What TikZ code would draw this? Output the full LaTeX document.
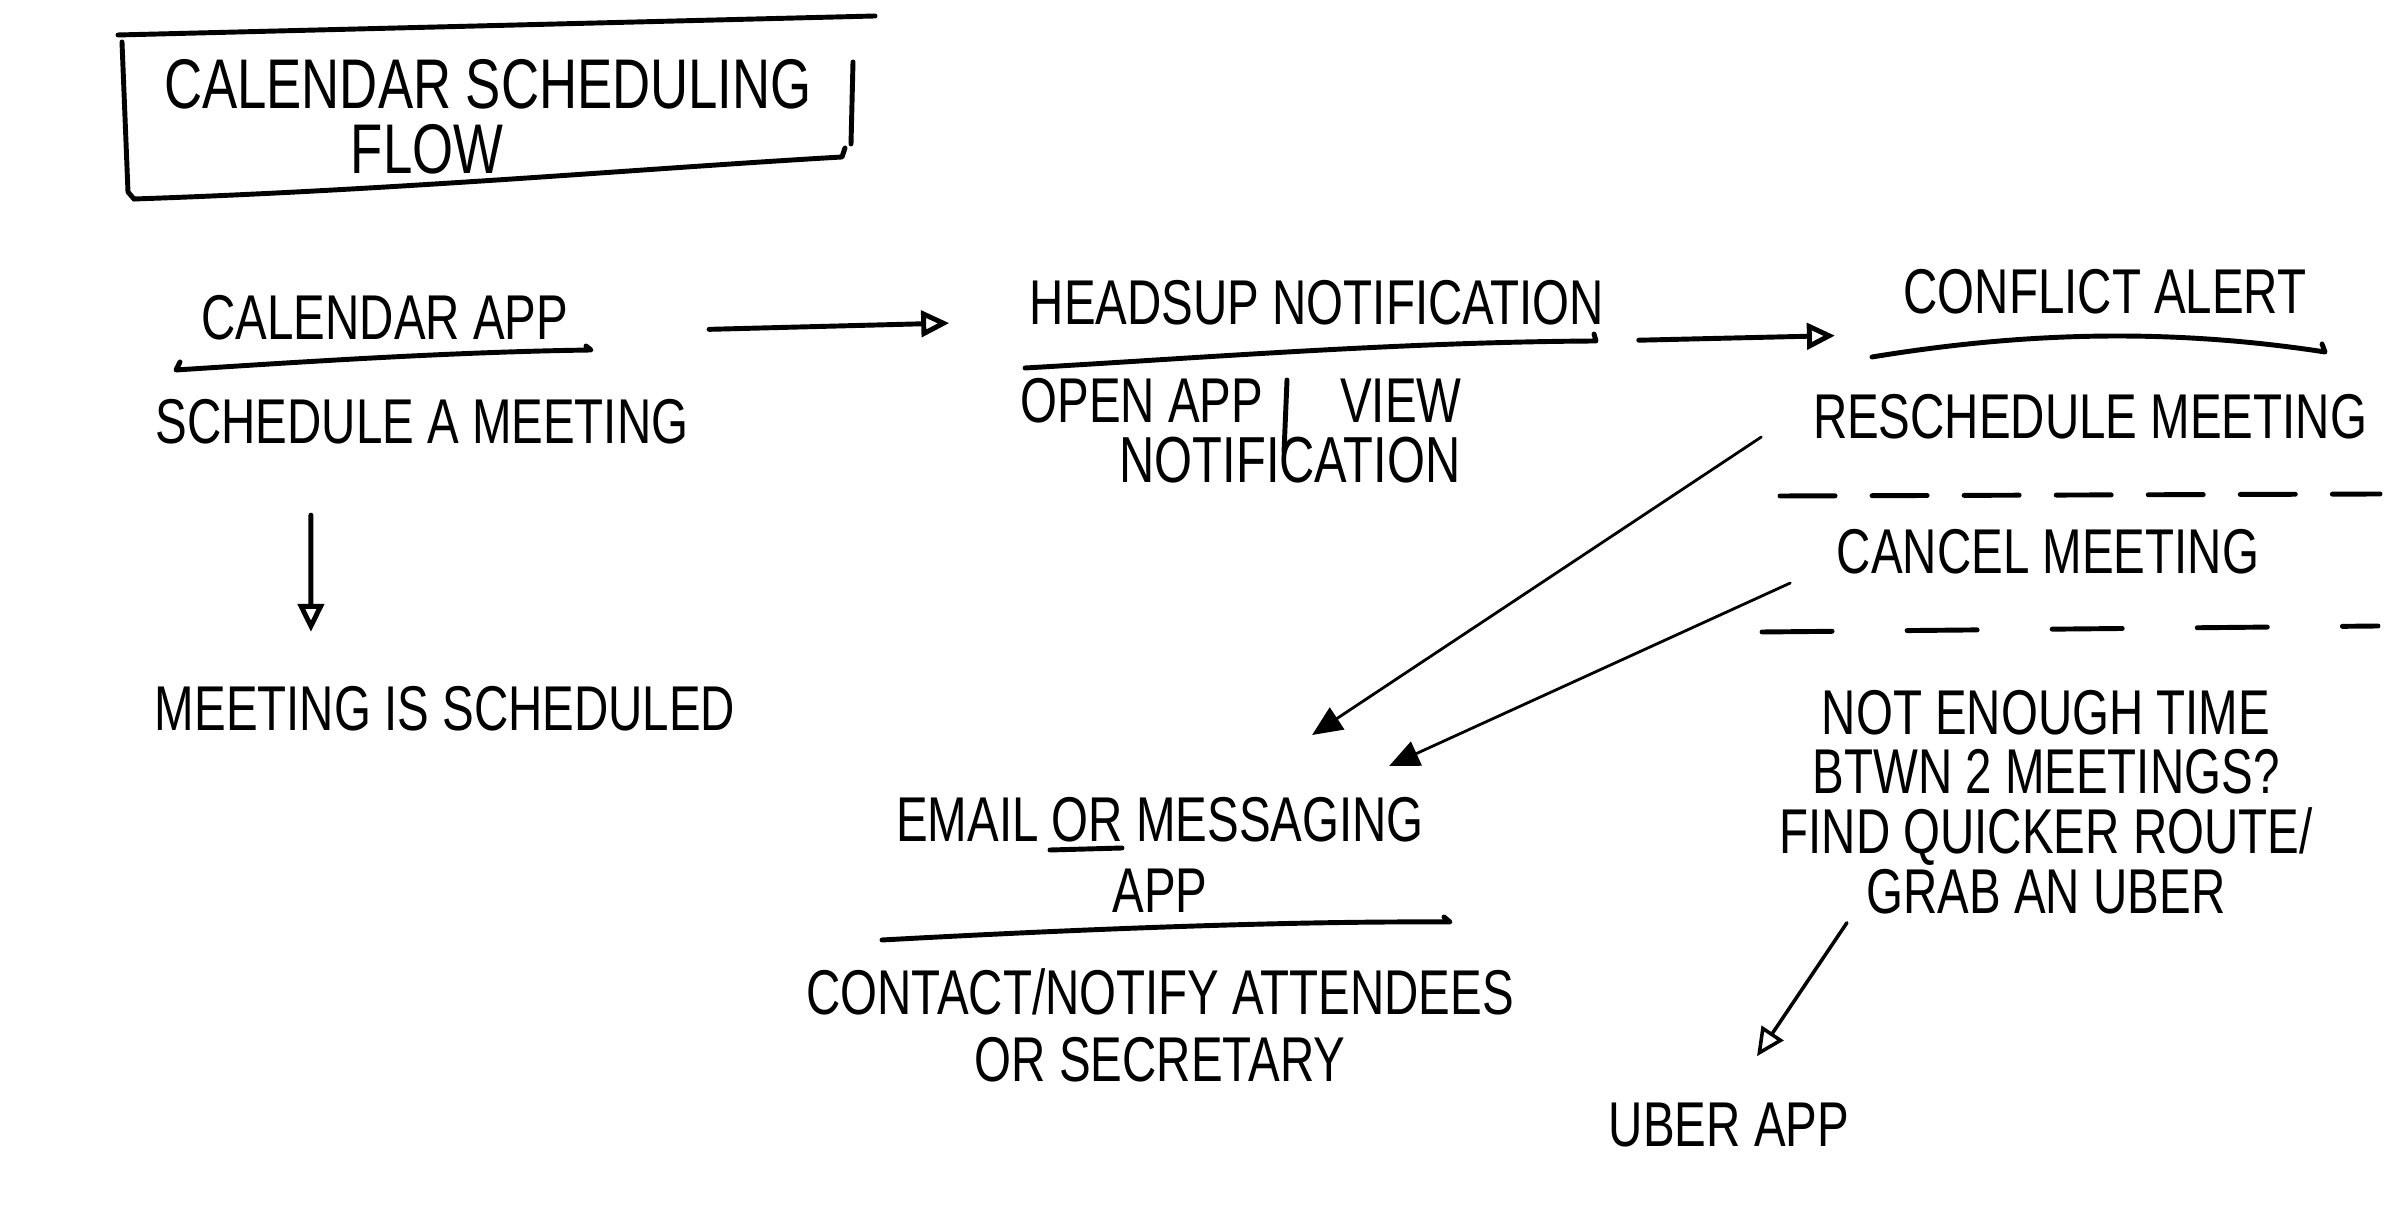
\documentclass[tikz,border=0pt]{standalone}
\usepackage{fontspec}
\setmainfont{Liberation Sans}[FakeStretch=0.75]
\usetikzlibrary{arrows.meta}

\begin{document}
\begin{tikzpicture}[x=0.01cm, y=-0.01cm,
    ink/.style={line width=1.4pt, line cap=round, line join=round},
    pencil/.style={line width=0.8pt, line cap=round},
    txt/.style={inner sep=0pt, font=\fontsize{18}{16}\selectfont, align=center},
    flow/.style={ink, -{Triangle[open, length=0.28cm, width=0.26cm]}},
    thinflow/.style={pencil, -{Triangle[length=0.3cm, width=0.26cm]}}]

            \useasboundingbox[fill=white] (0,0) rectangle (2406,1207);

            % Title box (hand drawn)
            \draw[ink] (118,35) -- (875,16);
            \draw[ink] (122,42) -- (128,192) -- (134,199);
            \draw[ink] (134,199) .. controls (400,190) and (650,168) .. (842,157) -- (845,148);
            \draw[ink] (853,62) -- (851,144);
            \node[txt, font=\fontsize{20}{20}\selectfont] (title) at (488,84) {CALENDAR SCHEDULING};
            \node[txt, font=\fontsize{20}{20}\selectfont] (titleb) at (427,149) {FLOW};

            % Calendar app column
            \node[txt] (calapp) at (385,318) {CALENDAR APP};
            \draw[ink] (180,362) -- (176,370) .. controls (300,362) and (450,352) .. (591,350) -- (586,346);
            \node[txt] (sched) at (422,422) {SCHEDULE A MEETING};
            \node[txt] (isched) at (445,709) {MEETING IS SCHEDULED};

            % Headsup notification
            \node[txt] (headsup) at (1317,303) {HEADSUP NOTIFICATION};
            \draw[ink] (1025,368) .. controls (1200,358) and (1400,342) .. (1596,341) -- (1594,334);
            \node[txt] (openapp) at (1241,401) {OPEN APP \hspace{0.8em} VIEW};
            \node[txt, font=\fontsize{18.5}{16}\selectfont] (openappb) at (1290,460) {NOTIFICATION};
            \draw[ink] (1287,380) -- (1284,452);

            % Conflict alert
            \node[txt] (conflict) at (2105,292) {CONFLICT ALERT};
            \draw[ink] (1872,357) .. controls (2000,336) and (2150,325) .. (2325,352) -- (2322,344);
            \node[txt] (resched) at (2090,417) {RESCHEDULE MEETING};
            \draw[ink, dash pattern=on 0.55cm off 0.37cm] (1780,496) -- (2380,494);
            \node[txt] (cancel) at (2048,552) {CANCEL MEETING};
            \draw[ink, dash pattern=on 0.7cm off 0.75cm] (1762,632) -- (2378,626);
            \node[txt, font=\fontsize{18}{17}\selectfont] (notenough) at (2046,802)
                {NOT ENOUGH TIME\\BTWN 2 MEETINGS?\\FIND QUICKER ROUTE/\\GRAB AN UBER};

            % Email / messaging
            \node[txt, font=\fontsize{18}{20}\selectfont] (email) at (1160,855) {EMAIL OR MESSAGING\\APP};
            \draw[ink] (1050,850) -- (1122,848);
            \draw[ink] (882,940) .. controls (1100,928) and (1300,921) .. (1450,922) -- (1444,917);
            \node[txt, font=\fontsize{18}{19}\selectfont] (contact) at (1160,1025) {CONTACT/NOTIFY ATTENDEES\\OR SECRETARY};

            % Uber
            \node[txt] (uber) at (1729,1125) {UBER APP};

            % Arrows
            \draw[flow, shorten <=1.4cm, shorten >=0.8cm] ([yshift=-0.15cm]calapp.east) -- ([yshift=-0.18cm]headsup.west);
            \draw[flow] ([xshift=-1.11cm,yshift=-0.7cm]sched.south) -- ([xshift=-1.34cm,yshift=0.54cm]isched.north);
            \draw[flow, shorten <=0.34cm, shorten >=0.68cm] ([yshift=-0.38cm]headsup.east) -- ([yshift=-0.42cm]conflict.west);
            \draw[thinflow] ([xshift=-0.51cm,yshift=-0.2cm]resched.west) -- ([xshift=1.52cm,yshift=0.62cm]email.north);
            \draw[thinflow] ([xshift=-0.46cm,yshift=-0.31cm]cancel.west) -- ([xshift=2.29cm,yshift=0.31cm]email.north);
            \draw[flow, line width=1pt] ([xshift=-1.99cm,yshift=-0.08cm]notenough.south) -- ([xshift=0.28cm,yshift=0.46cm]uber.north);

        \end{tikzpicture}
\end{document}
